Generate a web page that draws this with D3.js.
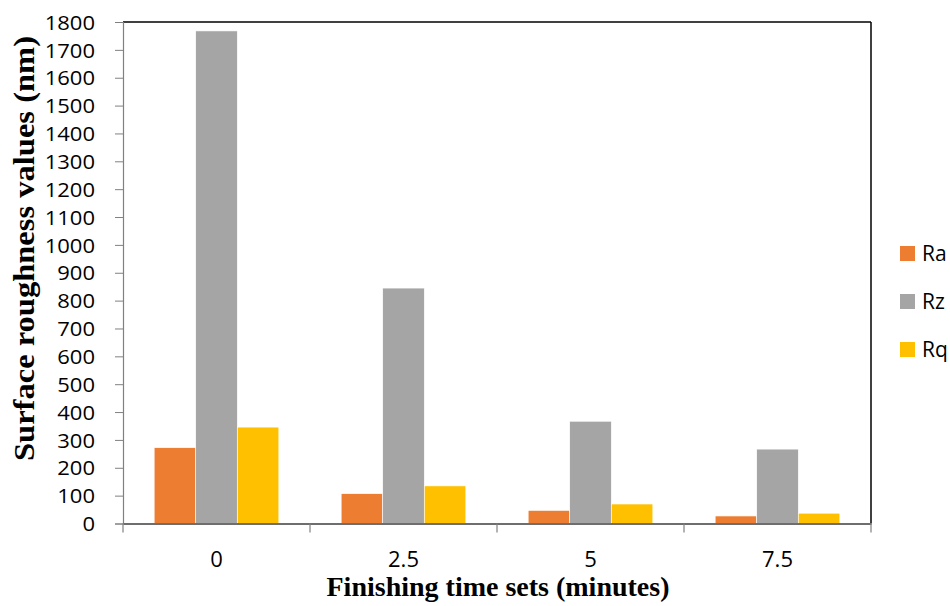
<!DOCTYPE html>
<html>
<head>
<meta charset="utf-8">
<script src="https://cdn.jsdelivr.net/npm/d3@7"></script>
<style>
  html, body { margin: 0; padding: 0; background: #fff; }
  svg { display: block; }
</style>
</head>
<body>
<svg id="chart" width="950" height="606"></svg>
<script>
// Finishing time sets (minutes)
const categories = ["0", "2.5", "5", "7.5"];
const seriesNames = ["Ra", "Rz", "Rq"];
// Surface roughness values (nm) per series, one value per time set
const Ra = [272, 107, 47, 27];
const Rz = [1768, 845, 367, 267];
const Rq = [346, 135, 70, 37];
const yTicks = [0, 100, 200, 300, 400, 500, 600, 700, 800, 900, 1000, 1100, 1200, 1300, 1400, 1500, 1600, 1700, 1800];
const colors = ["#ED7D31", "#A5A5A5", "#FFC000"];

const seriesValues = [Ra, Rz, Rq];
const rows = categories.map((c, i) => ({
  cat: c,
  vals: seriesNames.map((s, k) => ({ key: s, value: seriesValues[k][i] }))
}));

const svg = d3.select("#chart");
const margin = { left: 123, top: 22, right: 79, bottom: 82.5 };
const W = 950, H = 606;
const plotW = W - margin.left - margin.right;
const plotH = H - margin.top - margin.bottom;
const sansFont = "'Open Sans', sans-serif";
const serifFont = "'Liberation Serif', 'Times New Roman', serif";

const x0 = d3.scaleBand().domain(categories).range([0, plotW]).paddingInner(0).paddingOuter(0);
const x1 = d3.scaleBand().domain(seriesNames).range([0, x0.bandwidth()]).paddingInner(0).paddingOuter(0.75);
const y = d3.scaleLinear().domain([0, 1800]).range([plotH, 0]);
const color = d3.scaleOrdinal().domain(seriesNames).range(colors);

const g = svg.append("g").attr("transform", `translate(${margin.left},${margin.top})`);

// bars
const groups = g.selectAll("g.grp").data(rows).join("g")
  .attr("class", "grp")
  .attr("transform", d => `translate(${x0(d.cat)},0)`);
groups.selectAll("rect").data(d => d.vals).join("rect")
  .attr("x", d => x1(d.key))
  .attr("y", d => y(d.value))
  .attr("width", x1.bandwidth())
  .attr("height", d => plotH - y(d.value))
  .attr("fill", d => color(d.key))
  .attr("stroke", "#fff")
  .attr("stroke-width", 0.6);

// frame: top and right in black
g.append("line").attr("x1", 0).attr("x2", plotW).attr("y1", 0).attr("y2", 0)
  .attr("stroke", "#000").attr("stroke-width", 1.5);
g.append("line").attr("x1", plotW).attr("x2", plotW).attr("y1", 0).attr("y2", plotH)
  .attr("stroke", "#000").attr("stroke-width", 1.5);

// y axis
const yAxis = g.append("g").call(
  d3.axisLeft(y).tickValues(yTicks).tickSize(8).tickPadding(20).tickFormat(d3.format("d"))
);
yAxis.select(".domain").attr("stroke", "#808080").attr("stroke-width", 1.2);
yAxis.selectAll(".tick line").attr("stroke", "#808080");
yAxis.selectAll("text")
  .attr("font-family", sansFont)
  .attr("font-size", 20)
  .attr("fill", "#000")
  .attr("dy", "0.36em")
  .each(function () {
    const len = this.getComputedTextLength();
    d3.select(this).attr("textLength", len * 1.1).attr("lengthAdjust", "spacingAndGlyphs");
  });

// x axis
const xAxis = g.append("g").attr("transform", `translate(0,${plotH})`)
  .call(d3.axisBottom(x0).tickSize(0));
xAxis.select(".domain").attr("stroke", "#6e6e6e").attr("stroke-width", 2.2);
xAxis.selectAll("text")
  .attr("font-family", sansFont)
  .attr("font-size", 22)
  .attr("fill", "#000")
  .attr("y", 43.5)
  .attr("dy", 0);
// boundary ticks between categories
const bounds = categories.map(c => x0(c)).concat([plotW]);
xAxis.selectAll("line.bound").data(bounds).join("line")
  .attr("class", "bound")
  .attr("x1", d => d).attr("x2", d => d)
  .attr("y1", 0).attr("y2", 9)
  .attr("stroke", "#808080").attr("stroke-width", 1.2);

// axis titles
svg.append("text")
  .attr("x", 498)
  .attr("y", 596)
  .attr("text-anchor", "middle")
  .attr("font-family", serifFont)
  .attr("font-weight", "bold")
  .attr("font-size", 28)
  .text("Finishing time sets (minutes)");

svg.append("text")
  .attr("transform", "translate(34,248.5) rotate(-90)")
  .attr("text-anchor", "middle")
  .attr("font-family", serifFont)
  .attr("font-weight", "bold")
  .attr("font-size", 30)
  .attr("textLength", 425)
  .attr("lengthAdjust", "spacingAndGlyphs")
  .text("Surface roughness values (nm)");

// legend
const legend = svg.append("g").attr("transform", "translate(900,246)");
const li = legend.selectAll("g").data(seriesNames).join("g")
  .attr("transform", (d, i) => `translate(0,${i * 48})`);
li.append("rect").attr("width", 15).attr("height", 15).attr("fill", d => color(d));
li.append("text")
  .attr("x", 22).attr("y", 7.5).attr("dy", "0.36em")
  .attr("font-family", sansFont)
  .attr("font-size", 21)
  .text(d => d);
</script>
</body>
</html>
